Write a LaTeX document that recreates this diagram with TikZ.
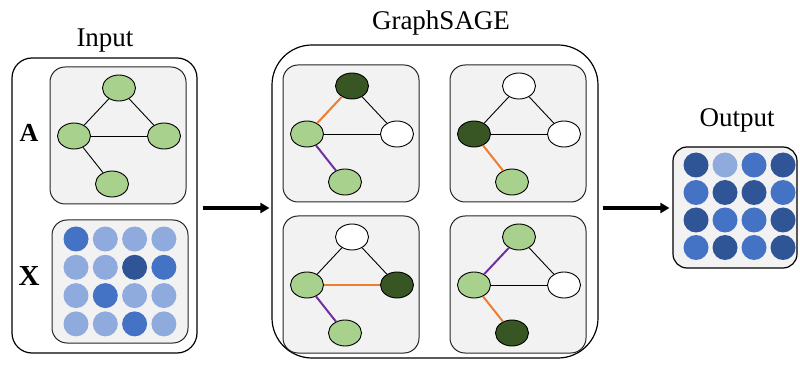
\documentclass[tikz,border=0pt]{standalone}
\usepackage{fontspec}
\setmainfont{Liberation Serif}
\usetikzlibrary{shapes.geometric,arrows.meta}

\definecolor{panelgray}{HTML}{F2F2F2}
\definecolor{lgreen}{HTML}{A9D18E}
\definecolor{dgreen}{HTML}{375623}
\definecolor{eorange}{HTML}{ED7D31}
\definecolor{epurple}{HTML}{7030A0}
\definecolor{bdark}{HTML}{2F5597}
\definecolor{bmed}{HTML}{4472C4}
\definecolor{blight}{HTML}{8FAADC}

\tikzset{
  outerbox/.style={draw, line width=1.2pt, rounded corners=#1},
  panelbox/.style={draw=black!85, fill=panelgray, line width=1pt, rounded corners=15pt,
    minimum width=136pt, minimum height=137pt, inner sep=0pt},
  vert/.style={ellipse, draw, line width=0.9pt, fill=#1, minimum width=33pt,
    minimum height=26pt, inner sep=0pt},
  dot/.style={circle, fill=#1, minimum size=25pt, inner sep=0pt},
  edge/.style={line width=0.9pt},
  hedge/.style={line width=2pt, draw=#1},
  flow/.style={line width=3.5pt, -{Triangle[length=9pt,width=10pt]}},
  title/.style={anchor=base, font=\fontsize{27}{30}\selectfont},
  mat/.style={anchor=base, font=\fontsize{#1}{30}\selectfont\bfseries}
}

% panel with four vertices: name, corner x, corner y, colours of top/left/right/bottom
\newcommand{\panelnodes}[7]{
  \node[panelbox] (#1) at (#2+68,#3+68.5) {};
  \node[vert=#4] (#1t) at (#2+69,#3+21) {};
  \node[vert=#5] (#1l) at (#2+24,#3+69) {};
  \node[vert=#6] (#1r) at (#2+114,#3+69) {};
  \node[vert=#7] (#1b) at (#2+62,#3+117) {};
}
% edges: top-left, top-right, left-right, left-bottom
\newcommand{\paneledges}[5]{
  \draw[#2] (#1t) -- (#1l);
  \draw[#3] (#1t) -- (#1r);
  \draw[#4] (#1l) -- (#1r);
  \draw[#5] (#1l) -- (#1b);
}

\begin{document}
\begin{tikzpicture}[x=1pt, y=-1pt]
  \useasboundingbox (0,0) rectangle (800,371);

  % Bloques exteriores
  \node[outerbox=20pt, minimum width=185pt, minimum height=295pt] (input) at (104.5,205.5) {};
  \node[outerbox=40pt, minimum width=326pt, minimum height=313pt] (sage) at (435,201.5) {};
  \node[outerbox=14pt, fill=panelgray, minimum width=124pt, minimum height=121pt] (output) at (735,207.5) {};

  % Titulos
  \node[title] (tin) at (105,47) {Input};
  \node[title] (tsage) at (441,30) {GraphSAGE};
  \node[title] (tout) at (737,127) {Output};
  \node[mat=26] (la) at (29,142) {A};
  \node[mat=29] (lx) at (29,285) {X};

  % Grafo de entrada
  \panelnodes{in}{50}{67}{lgreen}{lgreen}{lgreen}{lgreen}
  \paneledges{in}{edge}{edge}{edge}{edge}

  % Matriz de atributos
  \node[panelbox, minimum width=136pt, minimum height=123pt] (xbox) at (120,281.5) {};
  \foreach \col [count=\k from 0] in {bmed,blight,blight,blight,blight,blight,bdark,bmed,
      blight,bmed,blight,blight,blight,blight,bmed,blight}{
    \pgfmathtruncatemacro{\cx}{mod(\k,4)}
    \pgfmathtruncatemacro{\cy}{div(\k,4)}
    \node[dot=\col] (x\k) at (76+29.3*\cx,239+28.3*\cy) {};
  }

  % Agregacion de vecinos
  \panelnodes{pa}{283}{65}{dgreen}{lgreen}{white}{lgreen}
  \paneledges{pa}{hedge=eorange}{edge}{edge}{hedge=epurple}
  \panelnodes{pb}{450}{65}{white}{dgreen}{white}{lgreen}
  \paneledges{pb}{edge}{edge}{edge}{hedge=eorange}
  \panelnodes{pc}{283}{216}{white}{lgreen}{dgreen}{lgreen}
  \paneledges{pc}{edge}{edge}{hedge=eorange}{hedge=epurple}
  \panelnodes{pd}{450}{216}{lgreen}{lgreen}{white}{dgreen}
  \paneledges{pd}{hedge=epurple}{edge}{edge}{hedge=eorange}

  % Matriz de salida
  \foreach \col [count=\k from 0] in {bdark,blight,bmed,bdark,bmed,bdark,bdark,bmed,
      bdark,bmed,bmed,bdark,bmed,bdark,bmed,bdark}{
    \pgfmathtruncatemacro{\cx}{mod(\k,4)}
    \pgfmathtruncatemacro{\cy}{div(\k,4)}
    \node[dot=\col] (y\k) at (696+29*\cx,165+27.5*\cy) {};
  }

  % Flechas
  \draw[flow] ([xshift=5pt]input.east |- 0,208) -- ([xshift=-2pt]sage.west |- 0,208);
  \draw[flow] ([xshift=4pt]sage.east |- 0,208) -- ([xshift=-3pt]output.west |- 0,208);
\end{tikzpicture}
\end{document}
